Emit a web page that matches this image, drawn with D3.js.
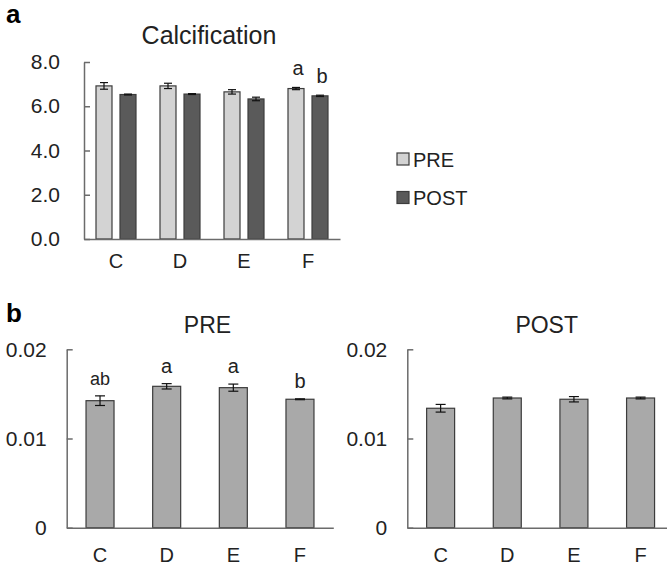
<!DOCTYPE html>
<html>
<head>
<meta charset="utf-8">
<script src="https://cdn.jsdelivr.net/npm/d3@7"></script>
<style>
  body { margin: 0; background: #fff; }
  svg { display: block; font-family: "Liberation Sans", Arial, sans-serif; }
  .axis path, .axis line { stroke: #6b6b6b; stroke-width: 1.5; }
  .axis text { fill: #222; }
</style>
</head>
<body>
<svg id="chart" width="667" height="566"></svg>
<script>
// Data
const categories = ["C", "D", "E", "F"];
const phases = ["PRE", "POST"];

// panel a: calcification
const calcPre = [6.92, 6.92, 6.65, 6.8];
const calcPreErr = [0.15, 0.12, 0.1, 0.05];
const calcPost = [6.53, 6.55, 6.33, 6.47];
const calcPostErr = [0.02, 0.02, 0.08, 0.03];
const calcLetters = [["", ""], ["", ""], ["", ""], ["a", "b"]];
const calcTicks = [0, 2, 4, 6, 8];

// panel b
const bPre = [0.01424, 0.01585, 0.0157, 0.0144];
const bPreErr = [0.00054, 0.0003, 0.0004, 0.00005];
const bPreLetters = ["ab", "a", "a", "b"];
const bPost = [0.01339, 0.01454, 0.0144, 0.01454];
const bPostErr = [0.00043, 0.0001, 0.0003, 0.0001];
const bTicks = [0, 0.01, 0.02];
const bTickLabels = ["0", "0.01", "0.02"];

const colors = { PRE: "#d3d3d3", POST: "#5a5a5a", single: "#a9a9a9" };
const outline = "#3c3c3c";

const svg = d3.select("#chart");

// ---------- panel a ----------
const xA = d3.scaleBand().domain(categories).range([84, 340]);
const xA1 = d3.scaleBand().domain(phases).range([12, 52]).paddingInner(1 / 3);
const yA = d3.scaleLinear().domain([0, 8]).range([239, 62]);

const rowsA = [];
categories.forEach(function (c, i) {
  rowsA.push({ cat: c, phase: "PRE", v: calcPre[i], e: calcPreErr[i], letter: calcLetters[i][0] });
  rowsA.push({ cat: c, phase: "POST", v: calcPost[i], e: calcPostErr[i], letter: calcLetters[i][1] });
});

svg.append("text")
  .attr("x", 6).attr("y", 23)
  .attr("font-size", 26).attr("font-weight", "bold")
  .text("a");

svg.append("text")
  .attr("x", 209).attr("y", 44)
  .attr("text-anchor", "middle")
  .attr("font-size", 25)
  .attr("fill", "#222")
  .text("Calcification");

svg.append("g")
  .selectAll("rect")
  .data(rowsA)
  .enter()
  .append("rect")
  .attr("x", function (d) { return xA(d.cat) + xA1(d.phase); })
  .attr("y", function (d) { return yA(d.v); })
  .attr("width", xA1.bandwidth())
  .attr("height", function (d) { return yA(0) - yA(d.v); })
  .attr("fill", function (d) { return colors[d.phase]; })
  .attr("stroke", outline)
  .attr("stroke-width", 1.2);

drawErrors(rowsA, function (d) { return xA(d.cat) + xA1(d.phase) + xA1.bandwidth() / 2; }, yA, 4);

svg.append("g")
  .selectAll("text")
  .data(rowsA.filter(function (d) { return d.letter; }))
  .enter()
  .append("text")
  .attr("x", function (d) { return xA(d.cat) + xA1(d.phase) + xA1.bandwidth() / 2 + 2; })
  .attr("y", function (d) { return yA(d.v + d.e) - 12; })
  .attr("text-anchor", "middle")
  .attr("font-size", 20)
  .attr("fill", "#222")
  .text(function (d) { return d.letter; });

svg.append("g")
  .attr("class", "axis")
  .attr("transform", "translate(84,0)")
  .call(d3.axisLeft(yA).tickValues(calcTicks).tickSizeInner(-6).tickSizeOuter(0)
    .tickPadding(24).tickFormat(d3.format(".1f")))
  .attr("font-size", 21)
  .attr("font-family", null);

svg.append("g")
  .attr("class", "axis")
  .attr("transform", "translate(0,239)")
  .call(d3.axisBottom(xA).tickSize(0).tickPadding(15))
  .attr("font-size", 20)
  .attr("font-family", null);

// legend
const legend = svg.append("g").attr("transform", "translate(397,153)");
phases.forEach(function (p, i) {
  legend.append("rect")
    .attr("x", 0).attr("y", i * 38.5)
    .attr("width", 12).attr("height", 12)
    .attr("fill", colors[p])
    .attr("stroke", outline)
    .attr("stroke-width", 1.2);
  legend.append("text")
    .attr("x", 16).attr("y", i * 38.5 + 13.5)
    .attr("font-size", 20)
    .attr("fill", "#222")
    .text(p);
});

svg.append("text")
  .attr("x", 6).attr("y", 322)
  .attr("font-size", 26).attr("font-weight", "bold")
  .text("b");

// ---------- panel b ----------
function smallPanel(left, title, titleX, values, errs, letters) {
  const x = d3.scaleBand().domain(categories)
    .range([left, left + 266.6]).paddingInner(0.58).paddingOuter(0.29);
  const y = d3.scaleLinear().domain([0, 0.02]).range([527.7, 349.3]);
  const rows = categories.map(function (c, i) {
    return { cat: c, v: values[i], e: errs[i], letter: letters ? letters[i] : "" };
  });

  svg.append("text")
    .attr("x", titleX).attr("y", 332.5)
    .attr("text-anchor", "middle")
    .attr("font-size", 23)
    .attr("fill", "#222")
    .text(title);

  svg.append("g")
    .selectAll("rect")
    .data(rows)
    .enter()
    .append("rect")
    .attr("x", function (d) { return x(d.cat); })
    .attr("y", function (d) { return y(d.v); })
    .attr("width", x.bandwidth())
    .attr("height", function (d) { return y(0) - y(d.v); })
    .attr("fill", colors.single)
    .attr("stroke", outline)
    .attr("stroke-width", 1.2);

  drawErrors(rows, function (d) { return x(d.cat) + x.bandwidth() / 2; }, y, 5);

  svg.append("g")
    .selectAll("text")
    .data(rows.filter(function (d) { return d.letter; }))
    .enter()
    .append("text")
    .attr("x", function (d) { return x(d.cat) + x.bandwidth() / 2; })
    .attr("y", function (d) { return y(d.v + d.e) - 11; })
    .attr("text-anchor", "middle")
    .attr("font-size", function (d) { return d.letter.length > 1 ? 18 : 20; })
    .attr("fill", "#222")
    .text(function (d) { return d.letter; });

  svg.append("g")
    .attr("class", "axis")
    .attr("transform", "translate(" + left + ",0)")
    .call(d3.axisLeft(y).tickValues(bTicks).tickSizeInner(-6).tickSizeOuter(0)
      .tickPadding(20).tickFormat(function (d, i) { return bTickLabels[i]; }))
    .attr("font-size", 21)
    .attr("font-family", null);

  svg.append("g")
    .attr("class", "axis")
    .attr("transform", "translate(0,527.7)")
    .call(d3.axisBottom(x).tickSize(0).tickPadding(20))
    .attr("font-size", 20)
    .attr("font-family", null);
}

function drawErrors(rows, cx, y, half) {
  const g = svg.append("g").attr("stroke", "#111").attr("stroke-width", 1.2);
  rows.forEach(function (d) {
    const x = cx(d);
    const top = y(d.v + d.e);
    const bot = y(d.v - d.e);
    g.append("line").attr("x1", x).attr("x2", x).attr("y1", top).attr("y2", bot);
    g.append("line").attr("x1", x - half).attr("x2", x + half).attr("y1", top).attr("y2", top);
    g.append("line").attr("x1", x - half).attr("x2", x + half).attr("y1", bot).attr("y2", bot);
  });
}

smallPanel(66.7, "PRE", 207.5, bPre, bPreErr, bPreLetters);
smallPanel(407.3, "POST", 546.7, bPost, bPostErr, null);
</script>
</body>
</html>
